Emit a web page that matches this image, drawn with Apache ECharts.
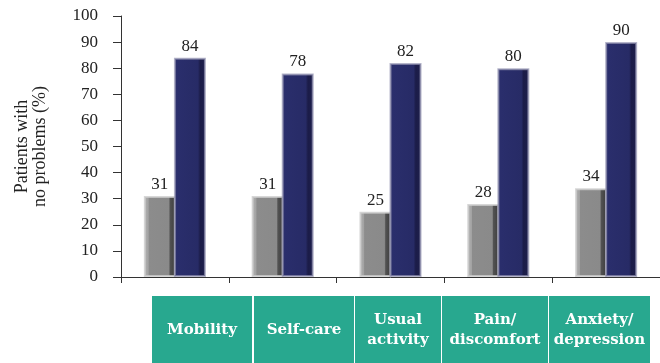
<!DOCTYPE html>
<html>
<head>
<meta charset="utf-8">
<script src="https://cdn.jsdelivr.net/npm/echarts@6/dist/echarts.min.js"></script>
<style>
html,body{margin:0;padding:0;background:#fff;}
#chart{width:660px;height:363px;}
</style>
</head>
<body>
<div id="chart"></div>
<script>
var categories = ['Mobility', 'Self-care', 'Usual\nactivity', 'Pain/\ndiscomfort', 'Anxiety/\ndepression'];
var seriesA = [31, 31, 25, 28, 34];
var seriesB = [84, 78, 82, 80, 90];
var yTicks = [0, 10, 20, 30, 40, 50, 60, 70, 80, 90, 100];
var yAxisTitle = 'Patients with\nno problems (%)';

// layout of the teal category boxes (decoration)
var boxLeft = [152, 254, 355, 442, 549];
var boxWidth = [100, 100, 86, 106, 101];
var boxTop = 296, boxHeight = 67;

var FONT = "'Liberation Serif', serif";
var BOXFONT = 'DejaVu Serif';

var chart = echarts.init(document.getElementById('chart'), null, {renderer: 'canvas'});

var graphics = categories.map(function (c, i) {
  return {
    type: 'group',
    left: boxLeft[i],
    top: boxTop,
    children: [
      {type: 'rect', shape: {x: 0, y: 0, width: boxWidth[i], height: boxHeight}, style: {fill: '#28a88f'}},
      {type: 'text', x: boxWidth[i] / 2, y: 34,
        style: {text: c, fill: '#fff', font: 'bold 15px "' + BOXFONT + '"', textAlign: 'center', textVerticalAlign: 'middle', lineHeight: 20}}
    ]
  };
});

var option = {
  animation: false,
  backgroundColor: '#fff',
  grid: {left: 121, top: 16, width: 550, bottom: 86, containLabel: false},
  xAxis: {
    type: 'category',
    data: categories,
    axisLine: {lineStyle: {color: '#333', width: 1}},
    axisTick: {show: true, alignWithLabel: false, length: 6, lineStyle: {color: '#333'}},
    axisLabel: {show: false}
  },
  yAxis: {
    type: 'value',
    min: yTicks[0],
    max: yTicks[yTicks.length - 1],
    interval: 10,
    name: yAxisTitle,
    nameLocation: 'middle',
    nameRotate: 90,
    nameGap: 72,
    nameTextStyle: {fontFamily: FONT, fontSize: 18, color: '#222', lineHeight: 18},
    axisLine: {show: true, lineStyle: {color: '#333'}},
    axisTick: {show: true, length: 8, lineStyle: {color: '#333'}},
    axisLabel: {fontFamily: FONT, fontSize: 17, color: '#222', margin: 23},
    splitLine: {show: false}
  },
  series: [
    {
      type: 'bar',
      data: seriesA,
      barWidth: 32,
      barGap: '-6%',
      itemStyle: {
        color: {type: 'linear', x: 0, y: 0, x2: 1, y2: 0, colorStops: [
          {offset: 0, color: '#b4b4b4'}, {offset: 0.14, color: '#a2a2a2'},
          {offset: 0.16, color: '#8c8c8c'}, {offset: 0.78, color: '#8a8a8a'},
          {offset: 0.82, color: '#525252'}, {offset: 1, color: '#3a3a3a'}]},
        borderColor: 'rgba(205,205,205,0.8)',
        borderWidth: 2
      },
      label: {show: true, position: 'top', distance: 3, fontFamily: FONT, fontSize: 17, color: '#222'}
    },
    {
      type: 'bar',
      data: seriesB,
      barWidth: 32,
      barGap: '-6%',
      itemStyle: {
        color: {type: 'linear', x: 0, y: 0, x2: 1, y2: 0, colorStops: [
          {offset: 0, color: '#34376f'}, {offset: 0.1, color: '#2a2e6c'},
          {offset: 0.75, color: '#272b66'}, {offset: 0.82, color: '#1b1c48'},
          {offset: 1, color: '#1e1f4c'}]},
        borderColor: 'rgba(150,150,180,0.7)',
        borderWidth: 2
      },
      label: {show: true, position: 'top', distance: 3, fontFamily: FONT, fontSize: 17, color: '#222'}
    }
  ],
  graphic: graphics
};

chart.setOption(option);
</script>
</body>
</html>
